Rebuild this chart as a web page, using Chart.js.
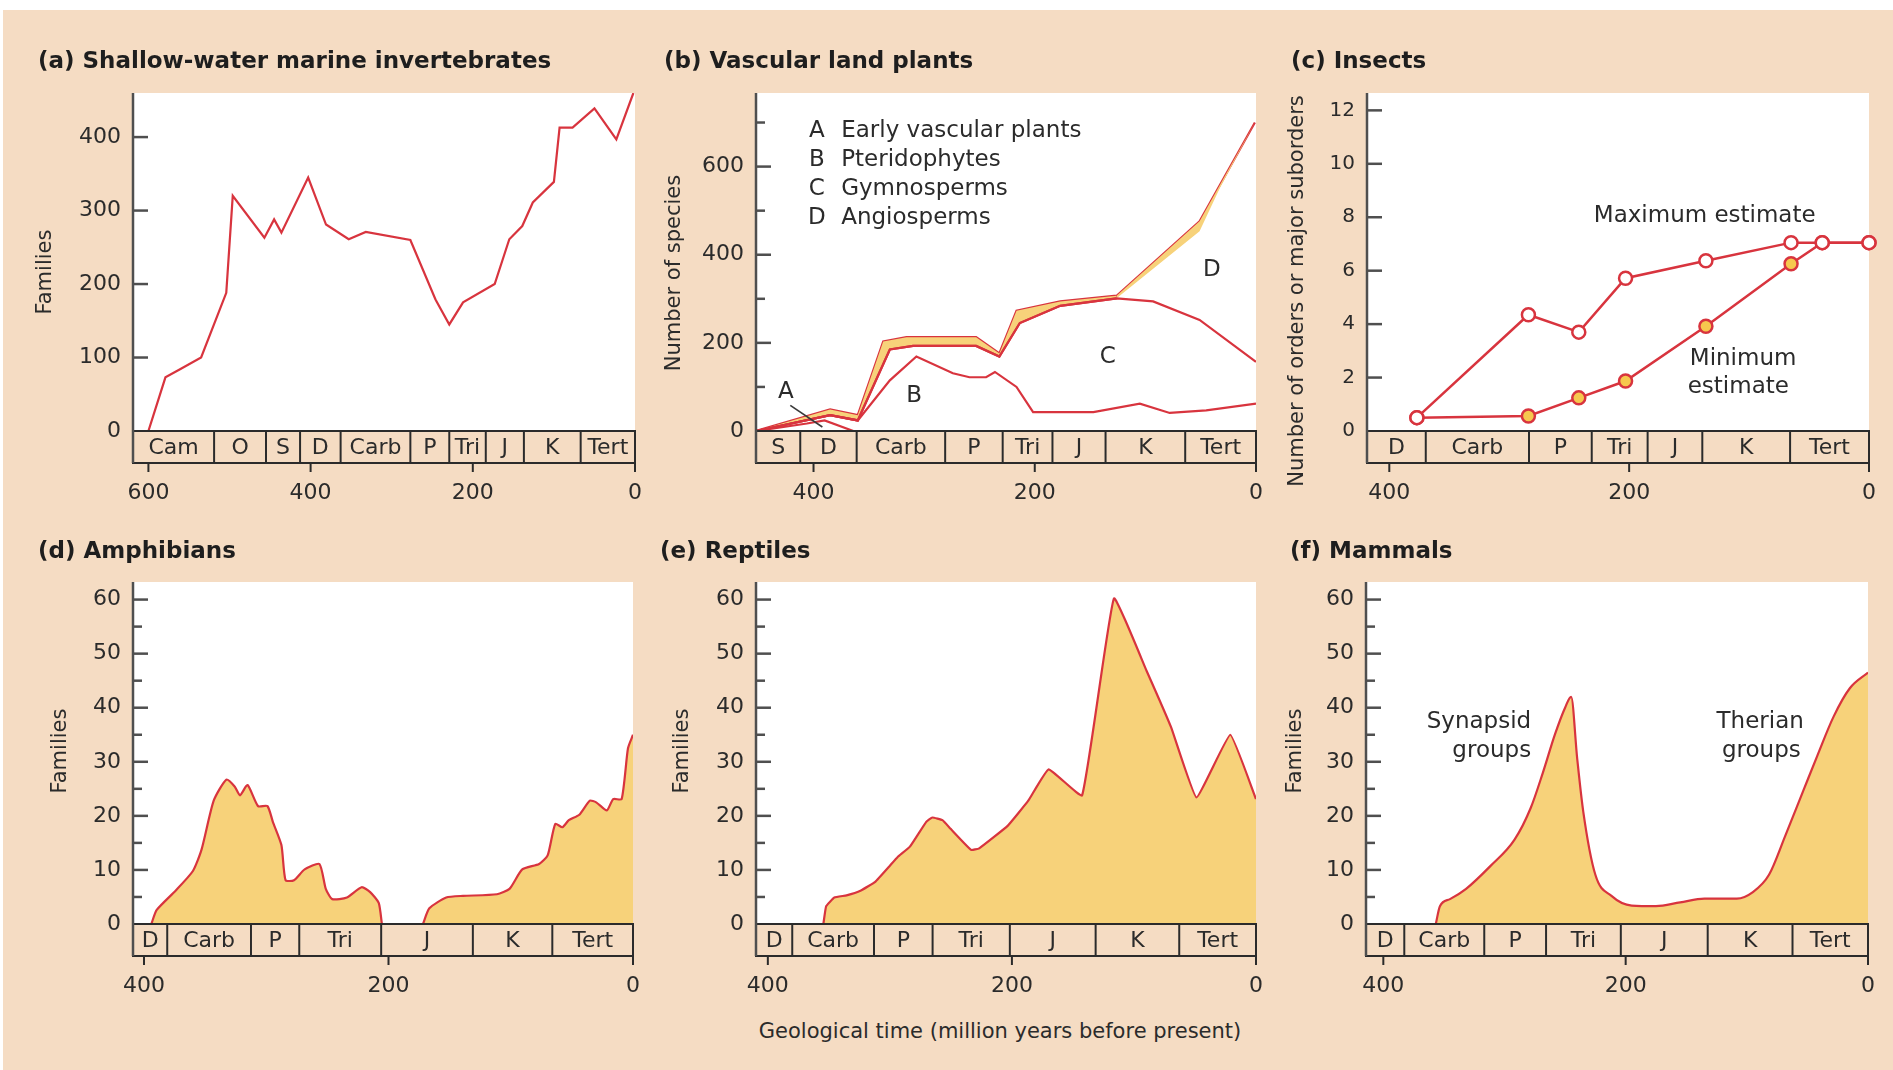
<!DOCTYPE html>
<html>
<head>
<meta charset="utf-8">
<script src="https://cdn.jsdelivr.net/npm/chart.js@4.4.1/dist/chart.umd.min.js"></script>
<style>
  body { margin: 0; background: #fff; width: 1893px; height: 1070px; overflow: hidden; }
  #bg { position: absolute; left: 3px; top: 10px; width: 1890px; height: 1060px; background: #f5dcc3; }
  canvas { position: absolute; }
  #caption { position: absolute; left: 1000px; top: 1031px; transform: translate(-50%, -50%);
             font: 21px "DejaVu Sans"; color: #2b2b2b; white-space: nowrap; }
</style>
</head>
<body>
<div id="bg"></div>
<div id="caption">Geological time (million years before present)</div>
<script>
// ---------- DATA (ages in million years before present) ----------

// (a) shallow-water marine invertebrates
const invertAge = [600, 579, 561, 535, 504, 496, 457, 445, 436, 403, 381, 353, 332, 277, 246, 229, 212, 173, 155, 139, 126, 100, 93, 77, 50, 23, 2];
const invertFamilies = [0, 73, 84, 100, 188, 320, 263, 288, 270, 345, 281, 261, 271, 260, 179, 145, 175, 200, 261, 279, 311, 339, 413, 413, 439, 397, 460];

// (b) vascular land plants (cumulative boundaries)
const earlyAge = [452, 406, 390, 364];
const earlyTop = [0, 17, 24, 0];
const pterAge = [452, 385, 360, 331, 307, 274, 259, 244, 236, 216.5, 201.5, 147, 105, 78, 45, 0];
const pterTop = [0, 36, 24, 115, 169, 131, 122, 122, 134, 100, 43, 43, 62, 41, 47, 62];
const gymnoAge = [452, 385, 360, 331, 310, 253, 232, 213.5, 177, 126, 93, 51, 0];
const gymnoTop = [0, 36, 24, 185, 193, 193, 169, 245, 284, 301, 294, 252, 157];
const bandAge = [452, 385, 360, 331, 310, 253, 232, 213.5, 177, 126, 51, 33, 1];
const bandLow = [0, 36, 24, 185, 193, 193, 169, 245, 284, 301, 453, 550, 700];
const totalAge = [452, 385, 360, 337, 316, 253, 232, 216.5, 177, 126, 51, 1];
const totalSpecies = [0, 49, 36, 203, 213, 213, 176, 273, 294, 307, 476, 700];

// (c) insects
const insectAge = [377, 284, 242, 203, 136, 65, 39, 0];
const insectMax = [0.5, 4.35, 3.7, 5.72, 6.37, 7.05, 7.05, 7.05];
const insectMin = [0.5, 0.56, 1.24, 1.87, 3.92, 6.26, 7.05, 7.05];

// (d) amphibians (two separate records)
const amphibAgeEarly = [394, 389.6, 374, 360, 353, 343, 332.6, 325.7, 321.5, 315.3, 306.7, 299, 294.6, 287.6, 284.2, 277.3, 268.6, 256.5, 251.3, 246, 234, 222, 215, 208, 205.4];
const amphibEarly = [0, 2.6, 6.2, 9.8, 13.7, 22.8, 26.7, 25.4, 23.8, 25.7, 21.8, 21.8, 18.9, 14.6, 8.1, 8.1, 10.1, 11.1, 6.5, 4.6, 4.9, 6.8, 5.9, 3.9, 0];
const amphibAgeLate = [171.8, 166.6, 152.8, 139, 111.3, 101, 90.6, 76.8, 69.8, 63.6, 57.7, 52.5, 43.9, 35.3, 30.1, 21.4, 16.2, 9.3, 4.1, 0];
const amphibLate = [0, 2.9, 4.9, 5.2, 5.5, 6.5, 10.1, 11.1, 12.7, 18.5, 17.9, 19.2, 20.2, 22.8, 22.5, 21, 23.1, 23.1, 32.5, 35];

// (e) reptiles
const reptAge = [354.5, 352.2, 345.5, 335.5, 323.7, 312, 300.3, 293.6, 283.6, 270.2, 265.2, 256.9, 250.2, 233.4, 226.8, 203.3, 186.6, 169.9, 142.5, 116.4, 89.6, 69.6, 48.8, 21.1, 0];
const reptiles = [0, 3.3, 4.9, 5.3, 6.2, 7.8, 10.7, 12.4, 14.3, 18.9, 19.7, 19.2, 17.6, 13.7, 14, 18.2, 22.8, 28.6, 23.8, 60.2, 46.8, 36.4, 23.4, 35, 23.1];

// (f) mammals
const mammalAge = [356.7, 353.3, 345, 331.7, 311.7, 291.7, 278.3, 268.3, 258.3, 250, 245, 240, 235, 225, 211.7, 195, 175, 155, 135, 108.3, 95, 81.7, 68.3, 53.3, 41.7, 28.3, 15, 0];
const mammals = [0, 3.3, 4.6, 6.5, 10.7, 15.6, 21.5, 28, 35.1, 40, 42, 30.6, 20.8, 9.1, 5.2, 3.4, 3.3, 4, 4.7, 4.7, 5.9, 9.1, 16.3, 24.7, 31.2, 38.4, 43.6, 46.5];

// geological periods (names + boundaries, left edge first) per panel
const periodsA = ['Cam', 'O', 'S', 'D', 'Carb', 'P', 'Tri', 'J', 'K', 'Tert'];
const edgesA = [619, 519, 455, 413, 363, 277, 229, 184, 137, 67, 0];
const periodsB = ['S', 'D', 'Carb', 'P', 'Tri', 'J', 'K', 'Tert'];
const edgesB = [452, 412, 361, 281, 229, 184, 136, 64, 0];
const periodsC = ['D', 'Carb', 'P', 'Tri', 'J', 'K', 'Tert'];
const edgesC = [418.6, 369.6, 283.5, 231.2, 184.6, 139, 65.8, 0];
const edgesD = [409, 381, 312.5, 273, 206, 131, 66, 0];
const edgesE = [409.7, 380, 313, 265, 201.7, 131.4, 62.9, 0];
const edgesF = [414.3, 382.7, 316.7, 265.7, 204, 132.3, 62.3, 0];

// tick labels
const ageTicksA = [600, 400, 200, 0];
const ageTicks = [400, 200, 0];
const familyTicksA = [0, 100, 200, 300, 400];
const speciesTicks = [0, 200, 400, 600];
const speciesMinor = [100, 300, 500, 700];
const orderTicks = [0, 2, 4, 6, 8, 10, 12];
const familyTicks = [0, 10, 20, 30, 40, 50, 60];
const familyMinor = [5, 15, 25, 35, 45, 55];

// ---------- STYLE ----------
const RED = '#d8343e';
const FILL = '#f7d27a';
const INK = '#2b2b2b';
const AXIS = '#4f4f4f';
const FONT = '"DejaVu Sans", sans-serif';
const PAD_L = 130, PAD_T = 70, PAD_R = 20, PAD_B = 90, BAND_H = 32;

Chart.defaults.font.family = FONT;
Chart.defaults.color = INK;

const pts = (xs, ys) => xs.map((x, i) => ({ x, y: ys[i] }));

function line(ds) {
  return Object.assign({ borderColor: RED, borderWidth: 2.2, pointRadius: 0, fill: false, tension: 0 }, ds);
}
function area(ds) {
  return Object.assign({ borderColor: RED, borderWidth: 2.2, pointRadius: 0, fill: 'origin', backgroundColor: FILL }, ds);
}

const panels = [
  {
    key: 'a', title: '(a) Shallow-water marine invertebrates', yTitle: 'Families',
    plot: [133, 93, 635, 431], titlePos: [38, 62], yTitlePos: [46, 272],
    xMax: 619, yMax: 460, xTicks: ageTicksA, yTicks: familyTicksA, yMinor: [],
    periods: periodsA, edges: edgesA,
    datasets: [line({ data: pts(invertAge, invertFamilies) })],
    notes: []
  },
  {
    key: 'b', title: '(b) Vascular land plants', yTitle: 'Number of species',
    plot: [756, 93, 1256, 431], titlePos: [664, 62], yTitlePos: [675, 273],
    xMax: 452, yMax: 767, xTicks: ageTicks, yTicks: speciesTicks, yMinor: speciesMinor,
    periods: periodsB, edges: edgesB,
    datasets: [
      line({ data: pts(earlyAge, earlyTop) }),
      line({ data: pts(pterAge, pterTop) }),
      line({ data: pts(gymnoAge, gymnoTop) }),
      line({ data: pts(bandAge, bandLow), fill: 4, backgroundColor: FILL,
             segment: { borderColor: c => c.p0.parsed.x < 127 ? 'rgba(0,0,0,0)' : RED } }),
      line({ data: pts(totalAge, totalSpecies) })
    ],
    notes: [
      { t: 'A', x: 397, y: 681, a: 'center' }, { t: 'Early vascular plants', x: 375, y: 681, a: 'left' },
      { t: 'B', x: 397, y: 615, a: 'center' }, { t: 'Pteridophytes', x: 375, y: 615, a: 'left' },
      { t: 'C', x: 397, y: 550, a: 'center' }, { t: 'Gymnosperms', x: 375, y: 550, a: 'left' },
      { t: 'D', x: 397, y: 484, a: 'center' }, { t: 'Angiosperms', x: 375, y: 484, a: 'left' },
      { t: 'D', x: 40, y: 365, a: 'center' }, { t: 'C', x: 134, y: 168, a: 'center' },
      { t: 'B', x: 309, y: 79, a: 'center' }, { t: 'A', x: 425, y: 89, a: 'center' }
    ],
    arrow: [421, 58, 392, 9]
  },
  {
    key: 'c', title: '(c) Insects', yTitle: 'Number of orders or major suborders',
    plot: [1367, 93, 1869, 431], titlePos: [1291, 62], yTitlePos: [1298, 291],
    xMax: 418.6, yMax: 12.65, xTicks: ageTicks, yTicks: orderTicks, yMinor: [], yFont: 20,
    periods: periodsC, edges: edgesC,
    datasets: [
      line({ data: pts(insectAge, insectMax), pointRadius: 6.5, pointBackgroundColor: '#fff',
             pointBorderColor: RED, pointBorderWidth: 2.5, borderWidth: 2.5, clip: false }),
      line({ data: pts(insectAge, insectMin), pointRadius: 6.5, pointBackgroundColor: '#f6c84e',
             pointBorderColor: RED, pointBorderWidth: 2.5, borderWidth: 2.5, clip: false })
    ],
    notes: [
      { t: 'Maximum estimate', x: 137, y: 8.04, a: 'center' },
      { t: 'Minimum', x: 105, y: 2.71, a: 'center' }, { t: 'estimate', x: 109, y: 1.63, a: 'center' }
    ]
  },
  {
    key: 'd', title: '(d) Amphibians', yTitle: 'Families',
    plot: [133, 582, 633, 924], titlePos: [38, 552], yTitlePos: [61, 751],
    xMax: 409, yMax: 63.25, xTicks: ageTicks, yTicks: familyTicks, yMinor: familyMinor,
    periods: periodsC, edges: edgesD,
    datasets: [
      area({ data: pts(amphibAgeEarly, amphibEarly), tension: 0.2 }),
      area({ data: pts(amphibAgeLate, amphibLate), tension: 0.2 })
    ],
    notes: []
  },
  {
    key: 'e', title: '(e) Reptiles', yTitle: 'Families',
    plot: [756, 582, 1256, 924], titlePos: [660, 552], yTitlePos: [683, 751],
    xMax: 409.7, yMax: 63.25, xTicks: ageTicks, yTicks: familyTicks, yMinor: familyMinor,
    periods: periodsC, edges: edgesE,
    datasets: [area({ data: pts(reptAge, reptiles), tension: 0.1 })],
    notes: []
  },
  {
    key: 'f', title: '(f) Mammals', yTitle: 'Families',
    plot: [1366, 582, 1868, 924], titlePos: [1290, 552], yTitlePos: [1296, 751],
    xMax: 414.3, yMax: 63.25, xTicks: ageTicks, yTicks: familyTicks, yMinor: familyMinor,
    periods: periodsC, edges: edgesF,
    datasets: [area({ data: pts(mammalAge, mammals), cubicInterpolationMode: 'monotone' })],
    notes: [
      { t: 'Synapsid', x: 278, y: 37.4, a: 'right' }, { t: 'groups', x: 278, y: 32, a: 'right' },
      { t: 'Therian', x: 89, y: 37.4, a: 'center' }, { t: 'groups', x: 88, y: 32, a: 'center' }
    ]
  }
];

function seg(ctx, x0, y0, x1, y1) {
  ctx.beginPath(); ctx.moveTo(x0, y0); ctx.lineTo(x1, y1); ctx.stroke();
}

// draws white plot area, period band, axis, inward ticks and texts
function decor(p) {
  return {
    id: 'decor_' + p.key,
    beforeDraw(chart) {
      const { ctx, chartArea: a } = chart;
      ctx.save();
      ctx.fillStyle = '#fff';
      ctx.fillRect(a.left, a.top, a.right - a.left, a.bottom - a.top);
      ctx.restore();
    },
    afterDraw(chart) {
      const { ctx, chartArea: a, scales: { x, y } } = chart;
      const px = v => v - p.plot[0] + a.left;   // page -> canvas
      const py = v => v - p.plot[1] + a.top;
      const bandBot = a.bottom + BAND_H;
      ctx.save();

      // period band
      ctx.strokeStyle = INK; ctx.lineWidth = 2;
      ctx.strokeRect(a.left, a.bottom, a.right - a.left, BAND_H);
      ctx.font = '22px ' + FONT; ctx.fillStyle = INK;
      ctx.textAlign = 'center'; ctx.textBaseline = 'middle';
      p.periods.forEach((name, i) => {
        const x0 = x.getPixelForValue(p.edges[i]), x1 = x.getPixelForValue(p.edges[i + 1]);
        if (i > 0) seg(ctx, x0, a.bottom, x0, bandBot);
        ctx.fillText(name, (x0 + x1) / 2, a.bottom + BAND_H / 2 + 1);
      });

      // x tick marks under the band
      p.xTicks.forEach(v => { const t = x.getPixelForValue(v); seg(ctx, t, bandBot, t, bandBot + 9); });

      // y axis + inward ticks
      ctx.strokeStyle = AXIS; ctx.lineWidth = 2.5;
      seg(ctx, a.left, a.top, a.left, bandBot);
      p.yTicks.forEach(v => { if (v > 0) { const t = y.getPixelForValue(v); seg(ctx, a.left, t, a.left + 15, t); } });
      p.yMinor.forEach(v => { const t = y.getPixelForValue(v); seg(ctx, a.left, t, a.left + 9, t); });

      // panel title
      ctx.fillStyle = '#1e1e1e'; ctx.font = 'bold 23px ' + FONT; ctx.textAlign = 'left';
      ctx.fillText(p.title, px(p.titlePos[0]), py(p.titlePos[1]));

      // y axis title
      ctx.save();
      ctx.translate(px(p.yTitlePos[0]), py(p.yTitlePos[1]));
      ctx.rotate(-Math.PI / 2);
      ctx.font = '21px ' + FONT; ctx.fillStyle = INK; ctx.textAlign = 'center';
      ctx.fillText(p.yTitle, 0, 0);
      ctx.restore();

      // annotations in data coordinates
      ctx.font = '23px ' + FONT; ctx.fillStyle = INK;
      p.notes.forEach(n => {
        ctx.textAlign = n.a;
        ctx.fillText(n.t, x.getPixelForValue(n.x), y.getPixelForValue(n.y));
      });
      if (p.arrow) {
        ctx.strokeStyle = '#3a3a3a'; ctx.lineWidth = 1.6;
        seg(ctx, x.getPixelForValue(p.arrow[0]), y.getPixelForValue(p.arrow[1]),
                 x.getPixelForValue(p.arrow[2]), y.getPixelForValue(p.arrow[3]));
      }
      ctx.restore();
    }
  };
}

function makePanel(p) {
  const cv = document.createElement('canvas');
  cv.width = p.plot[2] - p.plot[0] + PAD_L + PAD_R;
  cv.height = p.plot[3] - p.plot[1] + PAD_T + PAD_B;
  cv.style.left = (p.plot[0] - PAD_L) + 'px';
  cv.style.top = (p.plot[1] - PAD_T) + 'px';
  document.body.appendChild(cv);

  new Chart(cv, {
    type: 'line',
    data: { datasets: p.datasets },
    options: {
      responsive: false, animation: false, devicePixelRatio: 1,
      layout: { padding: { top: PAD_T, right: PAD_R, left: 0, bottom: 0 } },
      plugins: { legend: { display: false }, tooltip: { enabled: false } },
      scales: {
        x: {
          type: 'linear', reverse: true, min: 0, max: p.xMax,
          afterBuildTicks: s => { s.ticks = p.xTicks.map(v => ({ value: v })); },
          afterFit: s => { s.height = PAD_B; },
          // long invisible tick marks push the labels below the period band
          grid: { drawOnChartArea: false, drawTicks: true, tickLength: 49, color: 'rgba(0,0,0,0)' },
          border: { display: false },
          ticks: { padding: 0, font: { size: 22 }, maxRotation: 0, autoSkip: false, color: INK }
        },
        y: {
          type: 'linear', min: 0, max: p.yMax,
          afterBuildTicks: s => { s.ticks = p.yTicks.map(v => ({ value: v })); },
          afterFit: s => { s.width = PAD_L; },
          grid: { display: false, drawTicks: false }, border: { display: false },
          ticks: { padding: 12, font: { size: p.yFont || 22 }, color: INK }
        }
      }
    },
    plugins: [decor(p)]
  });
}

panels.forEach(makePanel);
</script>
</body>
</html>
